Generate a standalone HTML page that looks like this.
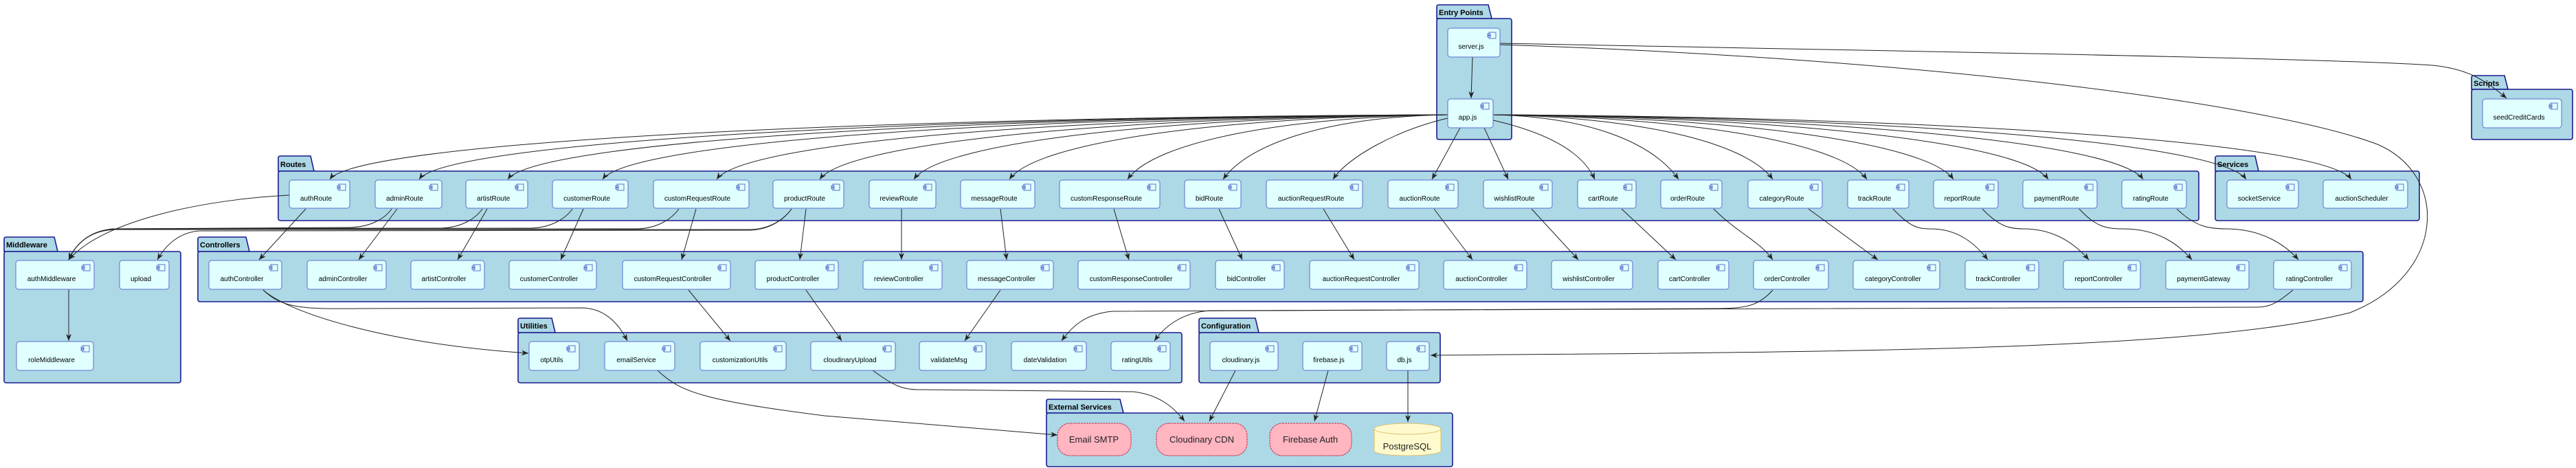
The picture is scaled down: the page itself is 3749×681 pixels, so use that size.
<!DOCTYPE html>
<html><head><meta charset="utf-8"><style>
html,body{margin:0;padding:0;background:#fff;}
svg{display:block;}
.n{fill:#E0FFFF;stroke:#5a6fd0;stroke-width:1;}
.p{fill:#ADD8E6;stroke:#1a1a8c;stroke-width:1.6;}
.t{font-family:"Liberation Sans",sans-serif;font-size:10px;fill:#000;text-anchor:middle;}
.pt{font-family:"Liberation Sans",sans-serif;font-size:11px;font-weight:bold;fill:#000;}
.e{fill:none;stroke:#222;stroke-width:1;marker-end:url(#a);}
.ic rect{fill:#E0FFFF;stroke:#3a50c0;stroke-width:0.8;}
.cl{fill:#FFB6C1;stroke:#c03050;stroke-width:1;}
.ct{font-family:"Liberation Sans",sans-serif;font-size:13px;fill:#222;text-anchor:middle;}
</style></head><body>
<svg width="3749" height="681" viewBox="0 0 3749 681" xmlns="http://www.w3.org/2000/svg">
<defs>
<marker id="a" markerWidth="10" markerHeight="8" refX="10" refY="4" orient="auto" markerUnits="userSpaceOnUse"><path d="M0,0 L10,4 L0,8 L3,4 Z" fill="#222"/></marker>
<g id="ic" class="ic"><rect x="0" y="0" width="10" height="9"/><rect x="-2" y="2" width="4" height="2"/><rect x="-2" y="5" width="4" height="2"/></g>
</defs>

<!-- Packages -->
<g>
<path class="p" d="M2091,27 L2091,10 Q2091,7 2094,7 L2166,7 L2171,27 Z"/><rect class="p" x="2091" y="27" width="109" height="176" rx="3"/><text class="pt" x="2094" y="22">Entry Points</text>
<path class="p" d="M3597,130 L3597,113 Q3597,110 3600,110 L3645,110 L3650,130 Z"/><rect class="p" x="3597" y="130" width="147" height="73" rx="3"/><text class="pt" x="3600" y="125">Scripts</text>
<path class="p" d="M405,249 L405,230 Q405,227 408,227 L452,227 L457,249 Z"/><rect class="p" x="405" y="249" width="2795" height="72" rx="3"/><text class="pt" x="408" y="243">Routes</text>
<path class="p" d="M3224,249 L3224,230 Q3224,227 3227,227 L3282,227 L3287,249 Z"/><rect class="p" x="3224" y="249" width="297" height="72" rx="3"/><text class="pt" x="3227" y="243">Services</text>
<path class="p" d="M6,366 L6,348 Q6,345 9,345 L79,345 L84,366 Z"/><rect class="p" x="6" y="366" width="257" height="191" rx="3"/><text class="pt" x="9" y="360">Middleware</text>
<path class="p" d="M288,366 L288,348 Q288,345 291,345 L358,345 L363,366 Z"/><rect class="p" x="288" y="366" width="3151" height="73" rx="3"/><text class="pt" x="291" y="360">Controllers</text>
<path class="p" d="M754,484 L754,466 Q754,463 757,463 L803,463 L808,484 Z"/><rect class="p" x="754" y="484" width="966" height="73" rx="3"/><text class="pt" x="757" y="478">Utilities</text>
<path class="p" d="M1745,484 L1745,466 Q1745,463 1748,463 L1827,463 L1832,484 Z"/><rect class="p" x="1745" y="484" width="351" height="73" rx="3"/><text class="pt" x="1748" y="478">Configuration</text>
<path class="p" d="M1523,601 L1523,584 Q1523,581 1526,581 L1630,581 L1635,601 Z"/><rect class="p" x="1523" y="601" width="591" height="78" rx="3"/><text class="pt" x="1526" y="596">External Services</text>
</g>

<!-- Edges -->
<g>
<path class="e" d="M2143,83 L2141,143"/>
<path class="e" d="M2183,63 C2800,75 3400,85 3540,95 C3590,100 3615,115 3648,143"/>
<path class="e" d="M2183,65 C2800,85 3300,150 3460,210 C3565,255 3560,400 3420,455 C3200,510 2700,512 2082,517"/>

<path class="e" d="M2107,167 C1293,170 520,205 480,261"/>
<path class="e" d="M2107,167 C1358,170 650,205 610,261"/>
<path class="e" d="M2107,167 C1423,170 779,205 739,261"/>
<path class="e" d="M2107,167 C1492,170 917,205 877,261"/>
<path class="e" d="M2107,167 C1575,170 1083,205 1043,261"/>
<path class="e" d="M2107,167 C1650,170 1233,205 1193,261"/>
<path class="e" d="M2107,167 C1718,170 1370,205 1330,261"/>
<path class="e" d="M2107,167 C1788,170 1509,205 1469,261"/>
<path class="e" d="M2107,167 C1874,170 1681,205 1641,261"/>
<path class="e" d="M2107,167 C1943,170 1820,205 1780,261"/>
<path class="e" d="M2107,172 C2030,190 1960,230 1940,261"/>
<path class="e" d="M2125,186 L2084,261"/>
<path class="e" d="M2160,186 L2195,261"/>
<path class="e" d="M2173,175 C2260,195 2305,225 2321,261"/>
<path class="e" d="M2173,167 C2308,170 2403,205 2443,261"/>
<path class="e" d="M2173,167 C2376,170 2540,205 2580,261"/>
<path class="e" d="M2173,167 C2445,170 2677,205 2717,261"/>
<path class="e" d="M2173,167 C2508,170 2803,205 2843,261"/>
<path class="e" d="M2173,167 C2577,170 2941,205 2981,261"/>
<path class="e" d="M2173,167 C2646,170 3079,205 3119,261"/>
<path class="e" d="M2173,167 C2721,170 3229,205 3269,261"/>
<path class="e" d="M2173,167 C2797,170 3382,205 3422,261"/>

<!-- routes to controllers -->
<path class="e" d="M445,304 L377,378"/>
<path class="e" d="M578,304 L522,378"/>
<path class="e" d="M709,304 L666,378"/>
<path class="e" d="M849,304 L816,378"/>
<path class="e" d="M1013,304 L992,378"/>
<path class="e" d="M1173,304 L1164,378"/>
<path class="e" d="M1312,304 L1312,378"/>
<path class="e" d="M1456,304 L1465,378"/>
<path class="e" d="M1621,304 L1643,378"/>
<path class="e" d="M1774,304 L1808,378"/>
<path class="e" d="M1926,304 L1971,378"/>
<path class="e" d="M2087,304 L2143,378"/>
<path class="e" d="M2229,304 L2297,378"/>
<path class="e" d="M2360,304 L2439,378"/>
<path class="e" d="M2494,304 C2530,340 2560,350 2580,378"/>
<path class="e" d="M2632,304 L2733,378"/>
<path class="e" d="M2755,304 C2780,330 2790,333 2810,333 C2850,333 2875,355 2893,378"/>
<path class="e" d="M2885,304 C2910,330 2925,333 2945,333 C2990,333 3020,355 3040,378"/>
<path class="e" d="M3026,304 C3050,330 3065,333 3090,333 C3140,333 3170,355 3190,378"/>
<path class="e" d="M3168,304 C3195,330 3215,333 3240,333 C3290,333 3325,355 3345,378"/>

<!-- routes to middleware -->
<path class="e" d="M421,284 C300,290 150,320 100,378"/>
<path class="e" d="M570,304 C560,318 540,330 510,331 L165,333 C130,336 110,355 100,378"/>
<path class="e" d="M702,304 C692,318 672,331 642,332 L165,333 C130,336 110,355 100,378"/>
<path class="e" d="M833,304 C823,318 803,331 773,332 L165,333 C130,336 110,355 100,378"/>
<path class="e" d="M988,304 C978,318 958,332 928,333 L165,334 C130,336 110,355 100,378"/>
<path class="e" d="M1152,304 C1142,318 1122,333 1092,334 L165,334 C130,336 110,355 100,378"/>
<path class="e" d="M1152,304 C1142,318 1122,334 1092,335 L290,336 C262,338 242,355 229,378"/>

<path class="e" d="M100,421 L100,496"/>

<!-- controllers to utils -->
<path class="e" d="M383,422 C420,455 560,500 769,514"/>
<path class="e" d="M383,422 C410,448 440,450 520,449 L850,448 C880,450 900,470 913,496"/>
<path class="e" d="M1002,422 L1063,496"/>
<path class="e" d="M1173,422 L1225,496"/>
<path class="e" d="M1456,422 L1404,496"/>
<path class="e" d="M2580,422 C2560,445 2540,449 2500,449 L1620,453 C1580,456 1560,475 1545,496"/>
<path class="e" d="M3337,422 C3310,445 3300,447 3280,447 L1760,452 C1720,455 1695,475 1680,496"/>

<!-- to external -->
<path class="e" d="M957,539 C990,570 1020,582 1200,605 L1539,633"/>
<path class="e" d="M1270,539 C1300,560 1310,567 1340,567 L1650,570 C1690,575 1710,595 1724,613"/>
<path class="e" d="M1798,539 L1760,613"/>
<path class="e" d="M1933,539 L1913,613"/>
<path class="e" d="M2049,539 L2049,614"/>
</g>

<!-- Nodes -->
<g>
<!-- Entry -->
<rect class="n" x="2107" y="41" width="76" height="42" rx="4"/><use href="#ic" x="2167" y="47"/><text class="t" x="2141" y="71">server.js</text>
<rect class="n" x="2107" y="144" width="66" height="42" rx="4"/><use href="#ic" x="2157" y="150"/><text class="t" x="2136" y="174">app.js</text>
<rect class="n" x="3613" y="144" width="115" height="42" rx="4"/><use href="#ic" x="3712" y="150"/><text class="t" x="3666" y="174">seedCreditCards</text>

<!-- Routes -->
<rect class="n" x="421" y="262" width="88" height="41" rx="4"/><use href="#ic" x="493" y="268"/><text class="t" x="460" y="292">authRoute</text>
<rect class="n" x="546" y="262" width="97" height="41" rx="4"/><use href="#ic" x="627" y="268"/><text class="t" x="589" y="292">adminRoute</text>
<rect class="n" x="678" y="262" width="90" height="41" rx="4"/><use href="#ic" x="752" y="268"/><text class="t" x="718" y="292">artistRoute</text>
<rect class="n" x="804" y="262" width="110" height="41" rx="4"/><use href="#ic" x="898" y="268"/><text class="t" x="854" y="292">customerRoute</text>
<rect class="n" x="951" y="262" width="139" height="41" rx="4"/><use href="#ic" x="1074" y="268"/><text class="t" x="1015" y="292">customRequestRoute</text>
<rect class="n" x="1125" y="262" width="103" height="41" rx="4"/><use href="#ic" x="1212" y="268"/><text class="t" x="1171" y="292">productRoute</text>
<rect class="n" x="1265" y="262" width="97" height="41" rx="4"/><use href="#ic" x="1346" y="268"/><text class="t" x="1308" y="292">reviewRoute</text>
<rect class="n" x="1398" y="262" width="108" height="41" rx="4"/><use href="#ic" x="1490" y="268"/><text class="t" x="1447" y="292">messageRoute</text>
<rect class="n" x="1542" y="262" width="146" height="41" rx="4"/><use href="#ic" x="1672" y="268"/><text class="t" x="1610" y="292">customResponseRoute</text>
<rect class="n" x="1724" y="262" width="82" height="41" rx="4"/><use href="#ic" x="1790" y="268"/><text class="t" x="1760" y="292">bidRoute</text>
<rect class="n" x="1843" y="262" width="140" height="41" rx="4"/><use href="#ic" x="1967" y="268"/><text class="t" x="1908" y="292">auctionRequestRoute</text>
<rect class="n" x="2020" y="262" width="102" height="41" rx="4"/><use href="#ic" x="2106" y="268"/><text class="t" x="2066" y="292">auctionRoute</text>
<rect class="n" x="2159" y="262" width="100" height="41" rx="4"/><use href="#ic" x="2243" y="268"/><text class="t" x="2204" y="292">wishlistRoute</text>
<rect class="n" x="2296" y="262" width="85" height="41" rx="4"/><use href="#ic" x="2365" y="268"/><text class="t" x="2333" y="292">cartRoute</text>
<rect class="n" x="2417" y="262" width="89" height="41" rx="4"/><use href="#ic" x="2490" y="268"/><text class="t" x="2456" y="292">orderRoute</text>
<rect class="n" x="2544" y="262" width="108" height="41" rx="4"/><use href="#ic" x="2636" y="268"/><text class="t" x="2593" y="292">categoryRoute</text>
<rect class="n" x="2689" y="262" width="89" height="41" rx="4"/><use href="#ic" x="2762" y="268"/><text class="t" x="2728" y="292">trackRoute</text>
<rect class="n" x="2814" y="262" width="94" height="41" rx="4"/><use href="#ic" x="2892" y="268"/><text class="t" x="2856" y="292">reportRoute</text>
<rect class="n" x="2944" y="262" width="108" height="41" rx="4"/><use href="#ic" x="3036" y="268"/><text class="t" x="2993" y="292">paymentRoute</text>
<rect class="n" x="3088" y="262" width="94" height="41" rx="4"/><use href="#ic" x="3166" y="268"/><text class="t" x="3130" y="292">ratingRoute</text>
<rect class="n" x="3241" y="262" width="104" height="41" rx="4"/><use href="#ic" x="3329" y="268"/><text class="t" x="3288" y="292">socketService</text>
<rect class="n" x="3381" y="262" width="123" height="41" rx="4"/><use href="#ic" x="3488" y="268"/><text class="t" x="3437" y="292">auctionScheduler</text>

<!-- Controllers -->
<rect class="n" x="304" y="379" width="106" height="42" rx="4"/><use href="#ic" x="394" y="385"/><text class="t" x="352" y="409">authController</text>
<rect class="n" x="447" y="379" width="115" height="42" rx="4"/><use href="#ic" x="546" y="385"/><text class="t" x="499" y="409">adminController</text>
<rect class="n" x="598" y="379" width="107" height="42" rx="4"/><use href="#ic" x="689" y="385"/><text class="t" x="646" y="409">artistController</text>
<rect class="n" x="741" y="379" width="127" height="42" rx="4"/><use href="#ic" x="852" y="385"/><text class="t" x="799" y="409">customerController</text>
<rect class="n" x="906" y="379" width="157" height="42" rx="4"/><use href="#ic" x="1047" y="385"/><text class="t" x="979" y="409">customRequestController</text>
<rect class="n" x="1099" y="379" width="121" height="42" rx="4"/><use href="#ic" x="1204" y="385"/><text class="t" x="1154" y="409">productController</text>
<rect class="n" x="1256" y="379" width="115" height="42" rx="4"/><use href="#ic" x="1355" y="385"/><text class="t" x="1308" y="409">reviewController</text>
<rect class="n" x="1407" y="379" width="126" height="42" rx="4"/><use href="#ic" x="1517" y="385"/><text class="t" x="1465" y="409">messageController</text>
<rect class="n" x="1569" y="379" width="163" height="42" rx="4"/><use href="#ic" x="1716" y="385"/><text class="t" x="1646" y="409">customResponseController</text>
<rect class="n" x="1769" y="379" width="100" height="42" rx="4"/><use href="#ic" x="1853" y="385"/><text class="t" x="1814" y="409">bidController</text>
<rect class="n" x="1906" y="379" width="159" height="42" rx="4"/><use href="#ic" x="2049" y="385"/><text class="t" x="1981" y="409">auctionRequestController</text>
<rect class="n" x="2101" y="379" width="121" height="42" rx="4"/><use href="#ic" x="2206" y="385"/><text class="t" x="2156" y="409">auctionController</text>
<rect class="n" x="2258" y="379" width="118" height="42" rx="4"/><use href="#ic" x="2360" y="385"/><text class="t" x="2312" y="409">wishlistController</text>
<rect class="n" x="2413" y="379" width="103" height="42" rx="4"/><use href="#ic" x="2500" y="385"/><text class="t" x="2459" y="409">cartController</text>
<rect class="n" x="2552" y="379" width="109" height="42" rx="4"/><use href="#ic" x="2645" y="385"/><text class="t" x="2601" y="409">orderController</text>
<rect class="n" x="2697" y="379" width="126" height="42" rx="4"/><use href="#ic" x="2807" y="385"/><text class="t" x="2755" y="409">categoryController</text>
<rect class="n" x="2860" y="379" width="107" height="42" rx="4"/><use href="#ic" x="2951" y="385"/><text class="t" x="2908" y="409">trackController</text>
<rect class="n" x="3003" y="379" width="112" height="42" rx="4"/><use href="#ic" x="3099" y="385"/><text class="t" x="3054" y="409">reportController</text>
<rect class="n" x="3152" y="379" width="121" height="42" rx="4"/><use href="#ic" x="3257" y="385"/><text class="t" x="3207" y="409">paymentGateway</text>
<rect class="n" x="3309" y="379" width="113" height="42" rx="4"/><use href="#ic" x="3406" y="385"/><text class="t" x="3361" y="409">ratingController</text>

<!-- Middleware -->
<rect class="n" x="23" y="379" width="114" height="42" rx="4"/><use href="#ic" x="121" y="385"/><text class="t" x="75" y="409">authMiddleware</text>
<rect class="n" x="174" y="379" width="72" height="42" rx="4"/><use href="#ic" x="230" y="385"/><text class="t" x="205" y="409">upload</text>
<rect class="n" x="24" y="497" width="112" height="42" rx="4"/><use href="#ic" x="120" y="503"/><text class="t" x="75" y="527">roleMiddleware</text>

<!-- Utilities -->
<rect class="n" x="770" y="497" width="73" height="42" rx="4"/><use href="#ic" x="827" y="503"/><text class="t" x="803" y="527">otpUtils</text>
<rect class="n" x="880" y="497" width="102" height="42" rx="4"/><use href="#ic" x="966" y="503"/><text class="t" x="926" y="527">emailService</text>
<rect class="n" x="1019" y="497" width="125" height="42" rx="4"/><use href="#ic" x="1128" y="503"/><text class="t" x="1077" y="527">customizationUtils</text>
<rect class="n" x="1180" y="497" width="123" height="42" rx="4"/><use href="#ic" x="1287" y="503"/><text class="t" x="1237" y="527">cloudinaryUpload</text>
<rect class="n" x="1338" y="497" width="97" height="42" rx="4"/><use href="#ic" x="1419" y="503"/><text class="t" x="1381" y="527">validateMsg</text>
<rect class="n" x="1472" y="497" width="109" height="42" rx="4"/><use href="#ic" x="1565" y="503"/><text class="t" x="1521" y="527">dateValidation</text>
<rect class="n" x="1617" y="497" width="86" height="42" rx="4"/><use href="#ic" x="1687" y="503"/><text class="t" x="1655" y="527">ratingUtils</text>

<!-- Configuration -->
<rect class="n" x="1761" y="497" width="99" height="42" rx="4"/><use href="#ic" x="1844" y="503"/><text class="t" x="1806" y="527">cloudinary.js</text>
<rect class="n" x="1896" y="497" width="86" height="42" rx="4"/><use href="#ic" x="1966" y="503"/><text class="t" x="1934" y="527">firebase.js</text>
<rect class="n" x="2018" y="497" width="62" height="42" rx="4"/><use href="#ic" x="2064" y="503"/><text class="t" x="2044" y="527">db.js</text>

<!-- External -->
<rect class="cl" x="1539" y="616" width="107" height="47" rx="18" stroke-dasharray="3,1"/><text class="ct" x="1592" y="644">Email SMTP</text>
<rect class="cl" x="1683" y="616" width="132" height="47" rx="18" stroke-dasharray="3,1"/><text class="ct" x="1749" y="644">Cloudinary CDN</text>
<rect class="cl" x="1848" y="616" width="119" height="47" rx="18" stroke-dasharray="3,1"/><text class="ct" x="1907" y="644">Firebase Auth</text>
<path d="M2000,624 L2000,656 A48.5,7 0 0 0 2097,656 L2097,624" fill="#FFFACD" stroke="#d8c070"/>
<ellipse cx="2048.5" cy="624" rx="48.5" ry="8" fill="#FFFACD" stroke="#d8c070"/>
<text class="ct" x="2048" y="654">PostgreSQL</text>
</g>
</svg>
</body></html>
